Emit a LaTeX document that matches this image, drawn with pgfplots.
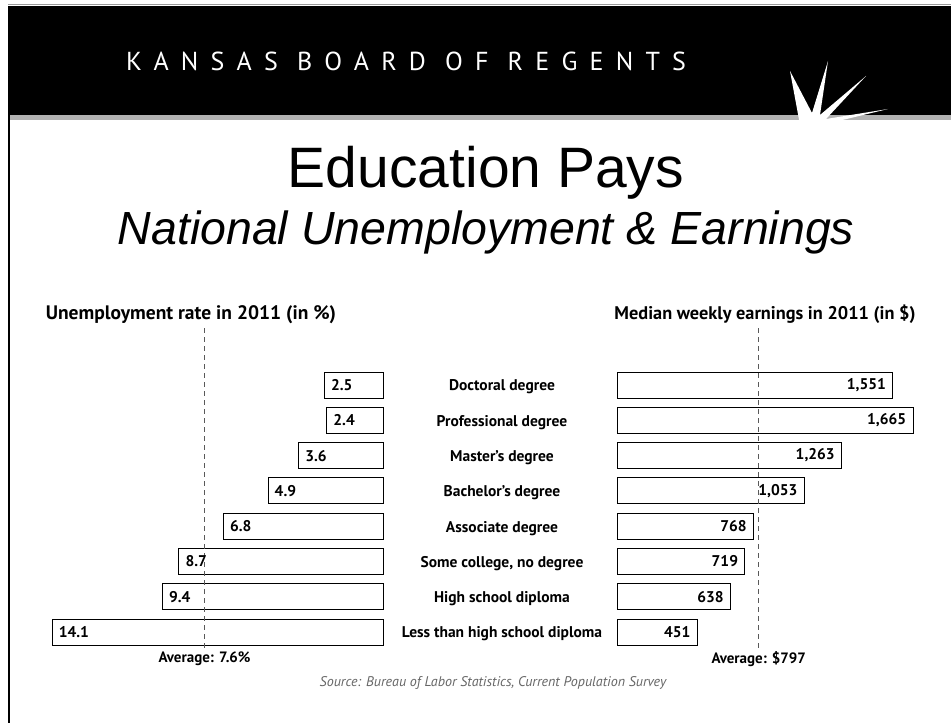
\documentclass[border=0pt]{standalone}
\usepackage{pgfplots}
\usepackage{pgfplotstable}
\pgfplotsset{compat=1.18}
\usepackage{fontspec}
\setmainfont{PT Sans}
\newfontfamily\arialf{Liberation Sans}
\newfontfamily\headf[LetterSpace=47]{PT Sans}

\pgfplotstableread{
cat val
0 2.5
1 2.4
2 3.6
3 4.9
4 6.8
5 8.7
6 9.4
7 14.1
}\unemp

\pgfplotstableread{
cat val label
0 1551 1,551
1 1665 1,665
2 1263 1,263
3 1053 1,053
4 768 768
5 719 719
6 638 638
7 451 451
}\earn

\begin{document}
\begin{tikzpicture}[x=1bp,y=1bp]
\useasboundingbox (0,0) rectangle (951,723);
\fill[white] (0,0) rectangle (951,723);
% header band
\draw[black!40, line width=0.6bp] (8,718.5) -- (951,718.5);
\fill[black] (8,608) rectangle (951,717);
\fill[black!30] (8,603) rectangle (951,608);
\draw[black, line width=2bp] (9,0) -- (9,717);
\node[anchor=base west, text=white, inner sep=0pt, font=\headf\fontsize{26bp}{26bp}\selectfont] at (126,652) {KANSAS BOARD OF REGENTS};
% star logo
\fill[white] (800,598) -- (790,652) -- (812,610) -- (828,662) -- (820,608) -- (866,647) -- (826,604) -- (888,614) -- (830,600) -- (905,598) -- (815,593) -- cycle;
% titles
\node[anchor=base, inner sep=0pt, font=\arialf\fontsize{57bp}{60bp}\selectfont] at (486,535) {Education Pays};
\node[anchor=base, inner sep=0pt, font=\arialf\itshape\fontsize{46.5bp}{50bp}\selectfont] at (486,478) {National Unemployment \& Earnings};
\node[anchor=base, inner sep=0pt, font=\bfseries\fontsize{19.5bp}{21bp}\selectfont] at (191,403) {Unemployment rate in 2011 (in \%)};
\node[anchor=base, inner sep=0pt, font=\bfseries\fontsize{18.3bp}{20bp}\selectfont] at (765,403) {Median weekly earnings in 2011 (in \$)};
\node[inner sep=0pt, text=black!60, font=\itshape\fontsize{14bp}{15bp}\selectfont] at (493,40) {Source: Bureau of Labor Statistics, Current Population Survey};

% left chart
\begin{axis}[at={(52bp,394.5bp)}, anchor=north west, scale only axis,
  width=331bp, height=319.5bp,
  xmin=0, xmax=14.1, x dir=reverse,
  ymin=-1.6, ymax=7.45, y dir=reverse,
  axis line style={draw=none}, tick style={draw=none},
  xtick=\empty, ytick=\empty, clip=false]
\addplot[xbar, bar width=26bp, fill=white, draw=black, line width=0.9bp,
  point meta=explicit symbolic, nodes near coords={\pgfplotspointmeta},
  every node near coord/.append style={anchor=west, xshift=3bp, font=\bfseries\fontsize{15.5bp}{16bp}\selectfont}]
  table[x=val, y=cat, meta=val] {\unemp};
\addplot[black!65, dash pattern=on 5bp off 4bp, line width=0.8bp] coordinates {(7.6,-1.6) (7.6,7.45)};
\node[anchor=north, font=\bfseries\fontsize{15bp}{16bp}\selectfont] at (axis cs:7.6,7.45) {Average: 7.6\%};
\end{axis}

% right chart
\begin{axis}[at={(617bp,394.5bp)}, anchor=north west, scale only axis,
  width=296bp, height=319.5bp,
  xmin=0, xmax=1665,
  ymin=-1.6, ymax=7.45, y dir=reverse,
  axis line style={draw=none}, tick style={draw=none},
  xtick=\empty, ytick={0,...,7},
  yticklabels={Doctoral degree, Professional degree, Master's degree, Bachelor's degree, Associate degree, {Some college, no degree}, High school diploma, Less than high school diploma},
  yticklabel style={anchor=center, xshift=-115bp, yshift=-2bp, font=\bfseries\fontsize{15.5bp}{16bp}\selectfont},
  clip=false]
\addplot[xbar, bar width=26bp, fill=white, draw=black, line width=0.9bp,
  point meta=explicit symbolic, nodes near coords={\pgfplotspointmeta},
  every node near coord/.append style={anchor=east, xshift=-3bp, font=\bfseries\fontsize{15.5bp}{16bp}\selectfont}]
  table[x=val, y=cat, meta=label] {\earn};
\addplot[black!65, dash pattern=on 5bp off 4bp, line width=0.8bp] coordinates {(797,-1.6) (797,7.45)};
\node[anchor=north, font=\bfseries\fontsize{15bp}{16bp}\selectfont] at (axis cs:797,7.45) {Average: \$797};
\end{axis}
\end{tikzpicture}
\end{document}
